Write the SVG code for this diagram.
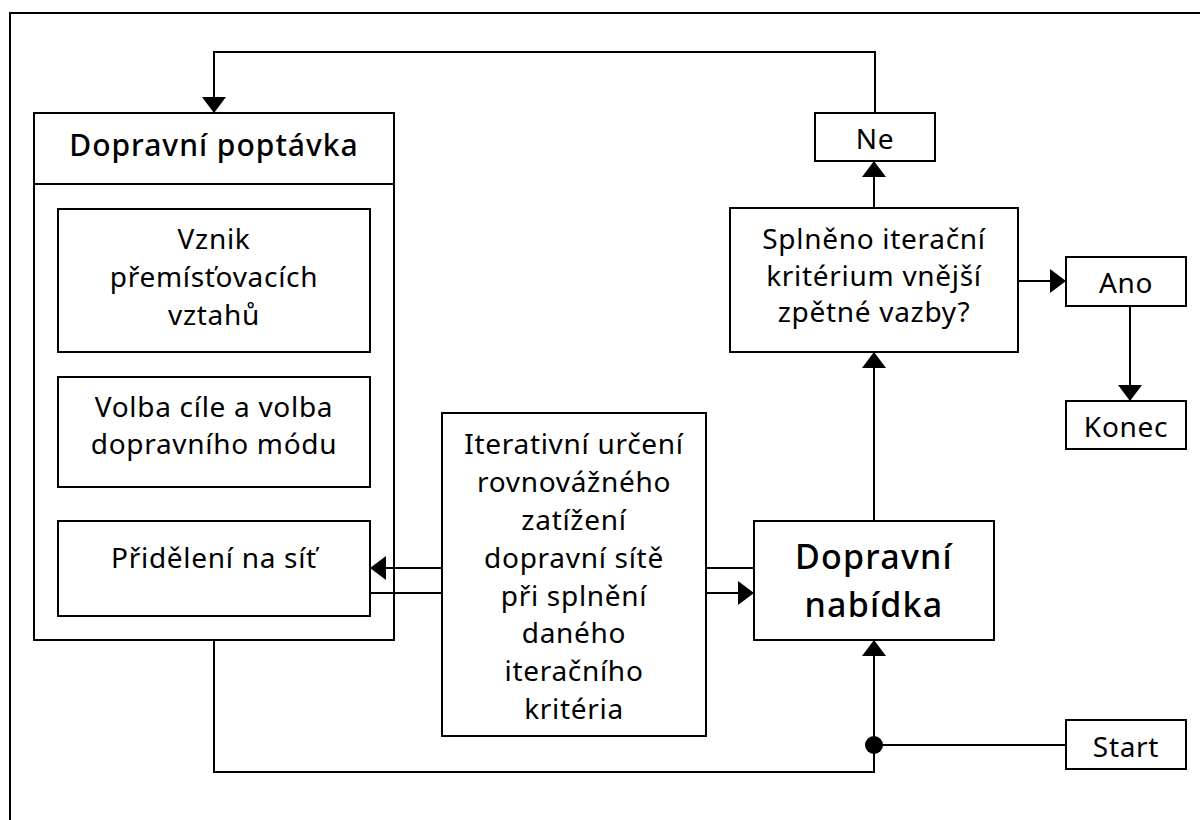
<svg xmlns="http://www.w3.org/2000/svg" width="1200" height="820" viewBox="0 0 1200 820">
<style>
.box{fill:#fff;stroke:#000;stroke-width:2}
.t{font-family:"Noto Sans","Open Sans","DejaVu Sans",sans-serif;font-size:28px;letter-spacing:0.7px;fill:#000;text-anchor:middle}
.h{font-family:"Noto Sans","Open Sans","DejaVu Sans",sans-serif;font-weight:500;fill:#000;text-anchor:middle}
.c{fill:none;stroke:#000;stroke-width:2}
</style>
<defs>
<marker id="arr" viewBox="0 0 16 24" refX="16" refY="12" markerWidth="16" markerHeight="24" markerUnits="userSpaceOnUse" orient="auto">
<path d="M0,0 L16,12 L0,24 z" fill="#000"/>
</marker>
</defs>
<rect x="0" y="0" width="1200" height="820" fill="#fff"/>
<rect id="frame" x="10" y="13" width="1240" height="860" fill="none" stroke="#000" stroke-width="2"/>

<g id="poptavka">
<rect class="box" x="34" y="113" width="360" height="527"/>
<line x1="34" y1="184" x2="394" y2="184" stroke="#000" stroke-width="2"/>
<text class="h" x="214" y="156" font-size="30" letter-spacing="1">Dopravní poptávka</text>
</g>
<g id="vznik">
<rect class="box" x="58" y="209" width="312" height="143"/>
<text class="t" x="214" y="249">Vznik</text>
<text class="t" x="214" y="287">přemísťovacích</text>
<text class="t" x="214" y="325">vztahů</text>
</g>
<g id="volba">
<rect class="box" x="58" y="377" width="312" height="110"/>
<text class="t" x="214" y="417">Volba cíle a volba</text>
<text class="t" x="214" y="454">dopravního módu</text>
</g>
<g id="prideleni">
<rect class="box" x="58" y="521" width="312" height="95"/>
<text class="t" x="214" y="568">Přidělení na síť</text>
</g>
<g id="iterativni">
<rect class="box" x="442" y="413" width="264" height="323"/>
<text class="t" x="574" y="454">Iterativní určení</text>
<text class="t" x="574" y="492">rovnovážného</text>
<text class="t" x="574" y="530">zatížení</text>
<text class="t" x="574" y="568">dopravní sítě</text>
<text class="t" x="574" y="606">při splnění</text>
<text class="t" x="574" y="643">daného</text>
<text class="t" x="574" y="681">iteračního</text>
<text class="t" x="574" y="719">kritéria</text>
</g>
<g id="nabidka">
<rect class="box" x="754" y="521" width="240" height="119"/>
<text class="h" x="874" y="569" font-size="34" letter-spacing="1.2">Dopravní</text>
<text class="h" x="874" y="617" font-size="34" letter-spacing="1.2">nabídka</text>
</g>
<g id="splneno">
<rect class="box" x="730" y="208" width="288" height="144"/>
<text class="t" x="874" y="249">Splněno iterační</text>
<text class="t" x="874" y="286">kritérium vnější</text>
<text class="t" x="874" y="322">zpětné vazby?</text>
</g>
<g id="ne">
<rect class="box" x="815" y="113" width="120" height="48"/>
<text class="t" x="875" y="149">Ne</text>
</g>
<g id="ano">
<rect class="box" x="1066" y="257" width="120" height="49"/>
<text class="t" x="1126" y="293">Ano</text>
</g>
<g id="konec">
<rect class="box" x="1066" y="401" width="120" height="48"/>
<text class="t" x="1126" y="437">Konec</text>
</g>
<g id="start">
<rect class="box" x="1066" y="720" width="120" height="49"/>
<text class="t" x="1126" y="757">Start</text>
</g>

<g id="connectors">
<path class="c" d="M875,113 V52 H214 V113" marker-end="url(#arr)"/>
<path class="c" d="M874,208 V161" marker-end="url(#arr)"/>
<path class="c" d="M1018,281 H1066" marker-end="url(#arr)"/>
<path class="c" d="M1130,306 V401" marker-end="url(#arr)"/>
<path class="c" d="M874,521 V352" marker-end="url(#arr)"/>
<path class="c" d="M442,568 H370" marker-end="url(#arr)"/>
<path class="c" d="M370,593 H442"/>
<path class="c" d="M706,568 H754"/>
<path class="c" d="M706,593 H754" marker-end="url(#arr)"/>
<path class="c" d="M214,640 V772 H874 V640" marker-end="url(#arr)"/>
<path class="c" d="M1066,745 H874"/>
<circle cx="874" cy="745" r="9" fill="#000"/>
</g>
</svg>
